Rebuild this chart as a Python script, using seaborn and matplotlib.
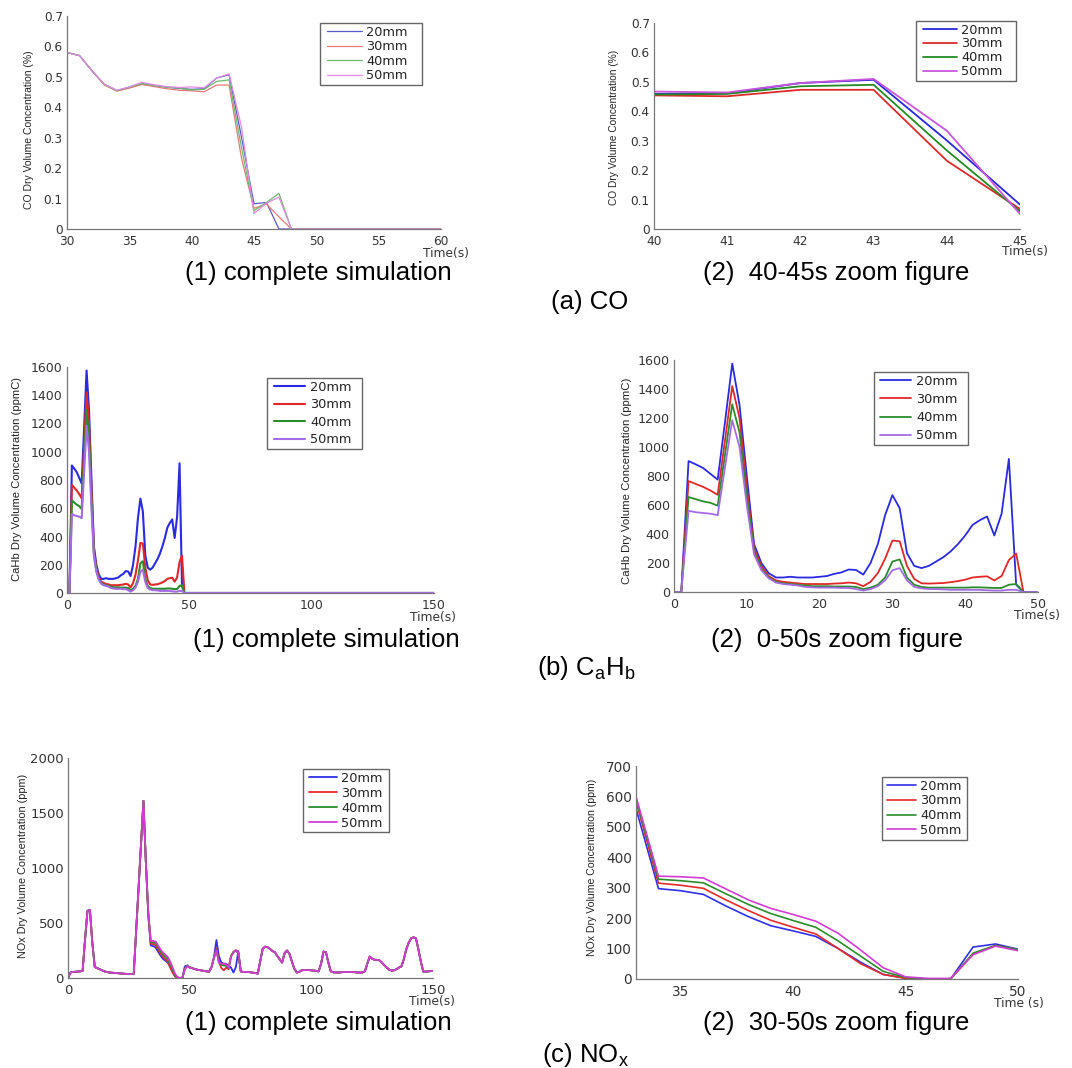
import matplotlib
matplotlib.use("Agg")
import matplotlib.pyplot as plt
from matplotlib import font_manager
from matplotlib.lines import Line2D
from matplotlib.legend_handler import HandlerLine2D
from matplotlib.path import Path
import seaborn as sns
import pandas as pd

# ---------------- data ----------------
SIZES = ["20mm", "30mm", "40mm", "50mm"]

# CO (%) sampled at 30..48 s, then flat zero to 60 s
CO_T = [30, 31, 32, 33, 34, 35, 36, 37, 38, 39, 40, 41, 42, 43, 44, 45, 46, 47, 48, 60]
CO_20 = [0.58, 0.57, 0.52, 0.475, 0.455, 0.465, 0.477, 0.472, 0.466, 0.462, 0.459, 0.461, 0.496, 0.507, 0.301, 0.083, 0.087, 0.0, 0.0, 0.0]
CO_30 = [0.58, 0.57, 0.52, 0.473, 0.453, 0.463, 0.475, 0.468, 0.461, 0.456, 0.454, 0.451, 0.473, 0.473, 0.232, 0.068, 0.082, 0.040, 0.0, 0.0]
CO_40 = [0.58, 0.57, 0.52, 0.475, 0.455, 0.466, 0.478, 0.472, 0.466, 0.463, 0.457, 0.459, 0.485, 0.490, 0.267, 0.060, 0.087, 0.117, 0.0, 0.0]
CO_50 = [0.58, 0.57, 0.52, 0.476, 0.456, 0.467, 0.482, 0.474, 0.468, 0.465, 0.467, 0.464, 0.496, 0.510, 0.334, 0.051, 0.085, 0.105, 0.0, 0.0]

# CaHb (ppmC) sampled at 0..48 s, then flat zero to 150 s
CH_T = list(range(0, 49)) + [150]
CH_20 = [0, 0, 903, 880, 855, 815, 775, 1170, 1575, 1290, 800, 330, 200, 130, 100, 100, 105, 100, 100, 100,
         105, 110, 125, 135, 155, 152, 120, 200, 330, 530, 668, 578, 268, 180, 165, 180, 210, 240, 280, 330,
         390, 462, 495, 521, 390, 540, 918, 50, 0, 0]
CH_30 = [0, 0, 765, 745, 725, 700, 670, 1045, 1420, 1200, 720, 300, 180, 110, 80, 70, 65, 60, 55, 55,
         55, 55, 58, 60, 65, 60, 40, 70, 130, 230, 355, 350, 180, 90, 60, 58, 60, 62, 68, 75,
         85, 100, 105, 108, 80, 110, 220, 265, 0, 0]
CH_40 = [0, 0, 655, 640, 625, 615, 595, 945, 1295, 1100, 660, 280, 160, 100, 70, 60, 55, 50, 45, 40,
         40, 40, 38, 38, 38, 35, 20, 30, 50, 100, 210, 225, 100, 50, 35, 30, 30, 30, 30, 30,
         30, 32, 32, 30, 28, 28, 50, 55, 0, 0]
CH_50 = [0, 0, 560, 550, 545, 540, 530, 860, 1185, 1000, 600, 260, 150, 95, 65, 55, 50, 45, 35, 32,
         30, 30, 30, 28, 28, 20, 10, 20, 40, 80, 150, 165, 80, 35, 25, 20, 20, 18, 15, 15,
         15, 15, 15, 12, 10, 10, 15, 15, 0, 0]

# NOx (ppm): common part 0..32 s
NOX_T_EARLY = list(range(0, 33))
NOX_EARLY = [0, 50, 55, 57, 58, 60, 65, 350, 610, 620, 320, 100, 90, 80, 70, 60, 55, 50, 48, 46,
             45, 42, 40, 38, 37, 36, 35, 35, 420, 820, 1220, 1610, 1050]
# per-series 33..50 s (zoom panel)
NOX_T_ZOOM = list(range(33, 51))
NOX_20_ZOOM = [560, 297, 290, 278, 240, 205, 175, 158, 140, 100, 55, 15, 3, 0, 0, 105, 115, 98]
NOX_30_ZOOM = [585, 315, 308, 298, 260, 225, 193, 170, 148, 100, 50, 15, 2, 0, 0, 82, 110, 96]
NOX_40_ZOOM = [590, 328, 323, 316, 280, 245, 215, 192, 170, 125, 75, 25, 5, 0, 0, 85, 110, 97]
NOX_50_ZOOM = [600, 338, 336, 332, 296, 260, 232, 212, 190, 150, 95, 37, 7, 2, 2, 80, 108, 93]
# per-series 51..72 s
NOX_T_MID = list(range(51, 73))
NOX_20_MID = [90, 82, 76, 72, 68, 64, 60, 58, 100, 190, 345, 200, 140, 130, 130, 110, 95, 50, 100, 245, 60, 55]
NOX_30_MID = [90, 82, 76, 72, 68, 64, 60, 58, 100, 185, 270, 150, 90, 70, 95, 80, 200, 240, 250, 230, 60, 55]
NOX_40_MID = [90, 82, 76, 72, 68, 64, 60, 58, 100, 185, 260, 140, 120, 115, 110, 90, 200, 235, 250, 225, 60, 55]
NOX_50_MID = [90, 82, 76, 72, 68, 64, 60, 58, 100, 185, 250, 140, 130, 130, 125, 95, 195, 230, 255, 230, 60, 55]
# common part 73..150 s
NOX_T_LATE = list(range(73, 151))
NOX_LATE = [55, 55, 52, 50, 45, 40, 150, 265, 285, 280, 265, 245, 235, 200, 170, 140, 225, 250, 220, 150,
            85, 50, 55, 70, 72, 72, 72, 70, 68, 65, 60, 130, 240, 235, 140, 60, 52, 50, 50, 52,
            55, 55, 55, 55, 55, 52, 50, 50, 50, 60, 130, 195, 175, 165, 165, 160, 140, 115, 95, 75,
            68, 70, 80, 95, 105, 170, 260, 320, 360, 370, 360, 260, 150, 58, 58, 60, 63, 65]

CO_YTICKS = [0, 0.1, 0.2, 0.3, 0.4, 0.5, 0.6, 0.7]
CO_YLABELS = ["0", "0.1", "0.2", "0.3", "0.4", "0.5", "0.6", "0.7"]
CH_YTICKS = [0, 200, 400, 600, 800, 1000, 1200, 1400, 1600]
NOX_FULL_YTICKS = [0, 500, 1000, 1500, 2000]
NOX_ZOOM_YTICKS = [0, 100, 200, 300, 400, 500, 600, 700]

# ---------------- styling ----------------
sns.set_theme(style="white")
names = {f.name for f in font_manager.fontManager.ttflist}
NARROW = "Liberation Sans Narrow" if "Liberation Sans Narrow" in names else "Liberation Sans"
plt.rcParams["font.family"] = ["DejaVu Sans"]
plt.rcParams["mathtext.fontset"] = "custom"
plt.rcParams["mathtext.rm"] = "Liberation Sans"
plt.rcParams["mathtext.it"] = "Liberation Sans"

W, H = 1072, 1068
fig = plt.figure(figsize=(W / 100, H / 100), dpi=100)

LEG_FS = 9.3
LEG_PX = LEG_FS * 100 / 72


def rect(x0, y0, x1, y1):
    return [x0 / W, 1 - y1 / H, (x1 - x0) / W, (y1 - y0) / H]


def long_df(t, series):
    rows = []
    for name, vals in zip(SIZES, series):
        assert len(vals) == len(t), (name, len(vals), len(t))
        for tt, v in zip(t, vals):
            rows.append((tt, v, name))
    return pd.DataFrame(rows, columns=["t", "v", "size"])


def wide_box(extra):
    def f(x0, y0, width, height, mutation_size):
        x1 = x0 + width + extra
        y1 = y0 + height
        return Path([(x0, y0), (x1, y0), (x1, y1), (x0, y1), (x0, y0)], closed=True)
    return f


def panel(box, t, series, colors, lw, xlim, xticks, ylim, yticks, ylabels, tick_fs,
          ylabel, ylab_xy, ylab_fs, xlab, xlab_xy, leg_xy, leg_geom):
    ax = fig.add_axes(rect(*box))
    df = long_df(t, series)
    sns.lineplot(data=df, x="t", y="v", hue="size", palette=dict(zip(SIZES, colors)),
                 linewidth=lw, ax=ax, legend=False, errorbar=None, estimator=None, sort=False)
    ax.set_xlim(*xlim)
    ax.set_ylim(*ylim)
    ax.set_xticks(xticks)
    ax.set_xticklabels([str(x) for x in xticks])
    ax.set_yticks(yticks)
    ax.set_yticklabels(ylabels)
    ax.set_xlabel("")
    ax.set_ylabel("")
    for s in ["top", "right"]:
        ax.spines[s].set_visible(False)
    for s in ["left", "bottom"]:
        ax.spines[s].set_color("#777777")
        ax.spines[s].set_linewidth(0.9)
    ax.tick_params(direction="in", length=3, width=0.6, color="#777777",
                   labelcolor="#333333", labelsize=tick_fs, pad=3)
    ax.tick_params(axis="x", pad=4)
    fig.text(ylab_xy[0] / W, 1 - ylab_xy[1] / H, ylabel, rotation=90, ha="center", va="center",
             family=NARROW, fontsize=ylab_fs, color="#222222")
    fig.text(xlab_xy[0] / W, 1 - xlab_xy[1] / H, xlab, ha="center", va="center",
             fontsize=8.8, color="#333333")
    # legend geometry in pixels: left gap, line length, gap, row pitch, right gap
    left_gap, line_len, gap, pitch, right_gap = leg_geom
    bp = 0.2
    xpad = max(left_gap - bp * LEG_PX, 0) / LEG_PX
    hl = xpad + line_len / LEG_PX
    ls = max(pitch - 13.7, 0) / LEG_PX
    lines = ax.get_lines()[:4]
    leg = ax.legend(lines, SIZES, loc="upper left",
                    bbox_to_anchor=(leg_xy[0] / W, 1 - leg_xy[1] / H), bbox_transform=fig.transFigure,
                    frameon=True, fancybox=False, framealpha=1, edgecolor="#666666",
                    fontsize=LEG_FS, handlelength=hl, handletextpad=gap / LEG_PX,
                    labelspacing=ls, borderpad=bp, borderaxespad=0,
                    handler_map={Line2D: HandlerLine2D(xpad=xpad)})
    leg.get_frame().set_linewidth(1.0)
    leg.get_frame().set_boxstyle(wide_box(max(right_gap - bp * LEG_PX, 0)))
    for txt in leg.get_texts():
        txt.set_color("#222222")
    return ax


# colours
C_LIGHT = ["#5a5ac8", "#e67878", "#6cb86c", "#e08ae0"]
C_STD = ["#2626dc", "#dc2a2a", "#238a23", "#c855dc"]
C_CH = ["#2a2ae0", "#e02828", "#2a8c2a", "#a56ae6"]
C_NOX = ["#3030e6", "#e62a2a", "#2a8c2a", "#d23cd2"]

# (a) CO complete
panel((67, 16, 441, 229), CO_T, [CO_20, CO_30, CO_40, CO_50], C_LIGHT, 0.9,
      (30, 60), [30, 35, 40, 45, 50, 55, 60], (0, 0.7), CO_YTICKS, CO_YLABELS, 8.7,
      "CO Dry Volume Concentration (%)", (29, 130), 7.5, "Time(s)", (446, 253),
      (320, 23), (7, 35, 4, 15.3, 14))
# (a) CO zoom
panel((654, 23, 1020, 229), CO_T, [CO_20, CO_30, CO_40, CO_50], C_STD, 1.3,
      (40, 45), [40, 41, 42, 43, 44, 45], (0, 0.7), CO_YTICKS, CO_YLABELS, 8.7,
      "CO Dry Volume Concentration (%)", (614, 127), 7.3, "Time(s)", (1025, 252),
      (916, 21), (7, 34, 4, 14.6, 13))
# (b) CaHb complete
panel((67, 367, 434, 593), CH_T, [CH_20, CH_30, CH_40, CH_50], C_CH, 1.5,
      (0, 150), [0, 50, 100, 150], (0, 1600), CH_YTICKS, [str(v) for v in CH_YTICKS], 9,
      "CaHb Dry Volume Concentration (ppmC)", (17, 479), 8.1, "Time(s)", (433, 617),
      (267, 378), (7, 31, 5, 18.3, 10))
# (b) CaHb zoom
panel((674, 360, 1038, 592), CH_T, [CH_20, CH_30, CH_40, CH_50], C_CH, 1.3,
      (0, 50), [0, 10, 20, 30, 40, 50], (0, 1600), CH_YTICKS, [str(v) for v in CH_YTICKS], 9.1,
      "CaHb Dry Volume Concentration (ppmC)", (627, 481), 8.2, "Time(s)", (1037, 616),
      (874, 372), (6, 31, 5, 19, 10))

NOX_T = NOX_T_EARLY + NOX_T_ZOOM + NOX_T_MID + NOX_T_LATE
NOX_20 = NOX_EARLY + NOX_20_ZOOM + NOX_20_MID + NOX_LATE
NOX_30 = NOX_EARLY + NOX_30_ZOOM + NOX_30_MID + NOX_LATE
NOX_40 = NOX_EARLY + NOX_40_ZOOM + NOX_40_MID + NOX_LATE
NOX_50 = NOX_EARLY + NOX_50_ZOOM + NOX_50_MID + NOX_LATE

# (c) NOx complete
panel((68, 758, 433, 978), NOX_T, [NOX_20, NOX_30, NOX_40, NOX_50], C_NOX, 1.3,
      (0, 150), [0, 50, 100, 150], (0, 2000), NOX_FULL_YTICKS, [str(v) for v in NOX_FULL_YTICKS], 9.5,
      "NOx Dry Volume Concentration (ppm)", (23, 866), 7.8, "Time(s)", (432, 1002),
      (303, 769), (6, 28, 4, 15.8, 6))
# (c) NOx zoom
panel((636, 766, 1018, 979), NOX_T, [NOX_20, NOX_30, NOX_40, NOX_50], C_NOX, 1.2,
      (33, 50), [35, 40, 45, 50], (0, 700), NOX_ZOOM_YTICKS, [str(v) for v in NOX_ZOOM_YTICKS], 9.8,
      "NOx Dry Volume Concentration (ppm)", (592, 867), 7.6, "Time (s)", (1019, 1003),
      (882, 777), (5, 29, 4, 15.5, 5))

# captions
CAP_FS = 18.5
def cap(x, y, s, fs=CAP_FS):
    fig.text(x / W, 1 - y / H, s, ha="center", va="center", family="Liberation Sans",
             fontsize=fs, color="black")

cap(318, 273, "(1) complete simulation")
cap(836, 273, "(2)  40-45s zoom figure")
cap(590, 302, "(a) CO")
cap(326, 640, "(1) complete simulation")
cap(837, 640, "(2)  0-50s zoom figure")
cap(586, 668, r"(b) C$_\mathregular{a}$H$_\mathregular{b}$")
cap(318, 1023, "(1) complete simulation")
cap(836, 1023, "(2)  30-50s zoom figure")
cap(585, 1055, r"(c) NO$_\mathregular{x}$")

fig.savefig("out.png", dpi=100)
